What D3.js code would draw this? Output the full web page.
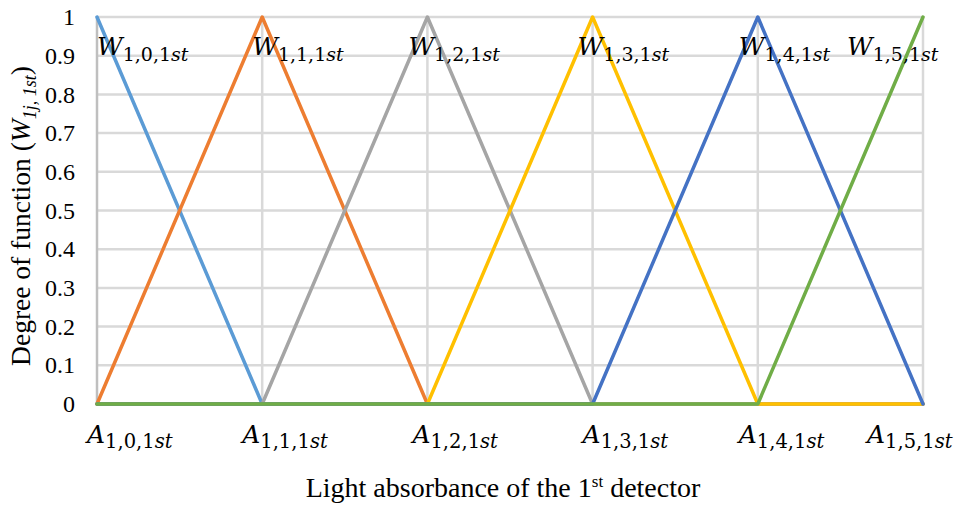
<!DOCTYPE html>
<html>
<head>
<meta charset="utf-8">
<script src="https://cdn.jsdelivr.net/npm/d3@7"></script>
<style>
  html, body { margin: 0; padding: 0; background: #fff; }
  svg { display: block; }
</style>
</head>
<body>
<div id="chart"></div>
<script>
"use strict";

/* ── Data ── */
const categories = ["0", "1", "2", "3", "4", "5"];          // A_{1,i,1st}
const seriesKeys = ["0", "1", "2", "3", "4", "5"];          // W_{1,j,1st}
const w0 = [1, 0, 0, 0, 0, 0];
const w1 = [0, 1, 0, 0, 0, 0];
const w2 = [0, 0, 1, 0, 0, 0];
const w3 = [0, 0, 0, 1, 0, 0];
const w4 = [0, 0, 0, 0, 1, 0];
const w5 = [0, 0, 0, 0, 0, 1];
const yTicks = [0, 0.1, 0.2, 0.3, 0.4, 0.5, 0.6, 0.7, 0.8, 0.9, 1];

const seriesValues = [w0, w1, w2, w3, w4, w5];
const colours = ["#5B9BD5", "#ED7D31", "#A5A5A5", "#FFC000", "#4472C4", "#70AD47"];

/* ── Layout ── */
const W = 954, H = 509;
const plot = { left: 97, right: 923, top: 17, bottom: 404 };
const catLabelDx = [-10, -20, -15, -10, -19, -56];   // hand-placed text boxes
const serLabelDx = [0, -10, -19, -15, -19, -76];
const mathFont = "'DejaVu Serif', serif";
const textFont = "'Liberation Serif', 'Times New Roman', Tinos, Times, 'DejaVu Serif', serif";

const svg = d3.select("#chart").append("svg")
  .attr("width", W).attr("height", H);

const x = d3.scalePoint().domain(categories).range([plot.left, plot.right]);
const y = d3.scaleLinear().domain([0, 1]).range([plot.bottom, plot.top]);

/* ── Gridlines ── */
svg.append("g")
  .selectAll("line")
  .data(yTicks.filter(d => d > 0))
  .join("line")
  .attr("x1", plot.left).attr("x2", plot.right)
  .attr("y1", d => y(d)).attr("y2", d => y(d))
  .attr("stroke", "#D9D9D9").attr("stroke-width", 2.5);

svg.append("g")
  .selectAll("line")
  .data(categories.slice(1))
  .join("line")
  .attr("x1", d => x(d)).attr("x2", d => x(d))
  .attr("y1", plot.top).attr("y2", plot.bottom)
  .attr("stroke", "#D9D9D9").attr("stroke-width", 2.5);

/* left axis line */
svg.append("line")
  .attr("x1", plot.left).attr("x2", plot.left)
  .attr("y1", plot.top).attr("y2", plot.bottom)
  .attr("stroke", "#BFBFBF").attr("stroke-width", 2.5);

/* ── Y axis ticks ── */
svg.append("g")
  .attr("transform", `translate(${plot.left},0)`)
  .call(d3.axisLeft(y).tickValues(yTicks).tickSize(0).tickPadding(22).tickFormat(d3.format("~g")))
  .call(g => {
    g.select(".domain").remove();
    g.selectAll(".tick text")
      .attr("font-family", textFont)
      .attr("font-size", "24px")
      .attr("fill", "#000");
  });

/* ── Series lines ── */
const line = d3.line()
  .x((d, i) => x(categories[i]))
  .y(d => y(d));

svg.append("g")
  .selectAll("path")
  .data(seriesValues)
  .join("path")
  .attr("d", d => line(d))
  .attr("fill", "none")
  .attr("stroke", (d, i) => colours[i])
  .attr("stroke-width", 3.5)
  .attr("stroke-linejoin", "round")
  .attr("stroke-linecap", "round");

/* ── Category labels A_{1,i,1st} ── */
const catG = svg.append("g").attr("font-family", mathFont).attr("fill", "#000");
categories.forEach((c, i) => {
  const t = catG.append("text")
    .attr("x", x(c) + catLabelDx[i])
    .attr("y", 443);
  t.append("tspan").attr("font-style", "italic").attr("font-size", "25px").text("A");
  t.append("tspan").attr("dy", 5).attr("font-size", "19.5px").text(`1,${c},1`);
  t.append("tspan").attr("font-style", "italic").attr("font-size", "19.5px").text("st");
});

/* ── Series labels W_{1,j,1st} ── */
const serG = svg.append("g").attr("font-family", mathFont).attr("fill", "#000");
seriesKeys.forEach((k, i) => {
  const peak = seriesValues[i].indexOf(d3.max(seriesValues[i]));
  const t = serG.append("text")
    .attr("x", x(categories[peak]) + serLabelDx[i])
    .attr("y", 55);
  t.append("tspan").attr("font-style", "italic").attr("font-size", "25px").text("W");
  t.append("tspan").attr("dy", 6).attr("font-size", "19px").text(`1,${k},1`);
  t.append("tspan").attr("font-style", "italic").attr("font-size", "19px").text("st");
});

/* ── Axis titles ── */
const xt = svg.append("text")
  .attr("x", 503)
  .attr("y", 497)
  .attr("text-anchor", "middle")
  .attr("font-family", textFont)
  .attr("font-size", "28px")
  .attr("fill", "#000");
xt.append("tspan").text("Light absorbance of the 1");
xt.append("tspan").attr("dy", -10).attr("font-size", "17px").text("st");
xt.append("tspan").attr("dy", 10).text(" detector");

const yt = svg.append("text")
  .attr("transform", "translate(30,216) rotate(-90)")
  .attr("text-anchor", "middle")
  .attr("font-family", textFont)
  .attr("font-size", "27.5px")
  .attr("fill", "#000");
yt.append("tspan").text("Degree of function (");
yt.append("tspan").attr("font-style", "italic").text("W");
yt.append("tspan").attr("dy", 6).attr("font-style", "italic").attr("font-size", "18px").text("1j, 1st");
yt.append("tspan").attr("dy", -6).text(")");
</script>
</body>
</html>
